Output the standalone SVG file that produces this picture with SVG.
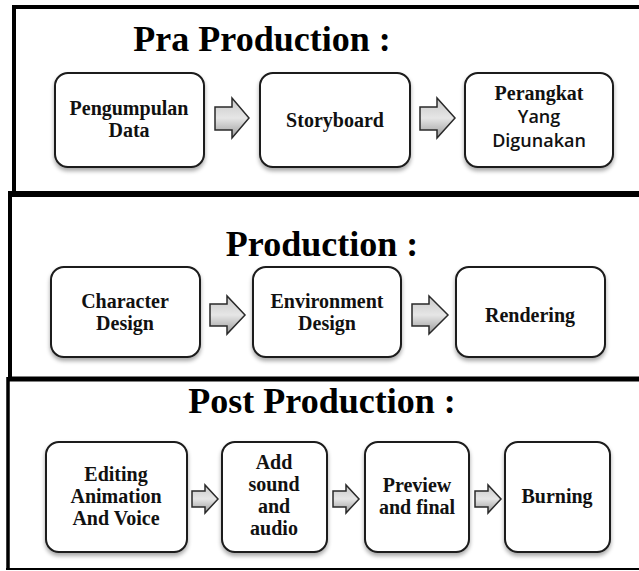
<svg xmlns="http://www.w3.org/2000/svg" width="639" height="571" viewBox="0 0 639 571">
<defs>
<linearGradient id="ag" x1="0" y1="0" x2="0" y2="1">
<stop offset="0" stop-color="#c8c8c8"/>
<stop offset="0.5" stop-color="#e6e6e6"/>
<stop offset="1" stop-color="#9a9a9a"/>
</linearGradient>
<filter id="sh" x="-10%" y="-10%" width="120%" height="130%">
<feGaussianBlur in="SourceAlpha" stdDeviation="2"/>
<feOffset dx="0" dy="3"/>
<feComponentTransfer><feFuncA type="linear" slope="0.35"/></feComponentTransfer>
<feMerge><feMergeNode/><feMergeNode in="SourceGraphic"/></feMerge>
</filter>
</defs>
<style>
.box{fill:#fff;stroke:#1a1a1a;stroke-width:2;filter:url(#sh)}
.t{font-family:"Liberation Serif",serif;font-weight:bold;font-size:20px;fill:#111;text-anchor:middle}
.s{font-family:"Open Sans","Liberation Sans",sans-serif;font-weight:600;font-size:18px;fill:#111;text-anchor:middle}
.h{font-family:"Liberation Serif",serif;font-weight:bold;font-size:36px;fill:#000;text-anchor:middle}
.fr{stroke:#000;fill:none}
.ar{fill:url(#ag);stroke:#2a2a2a;stroke-width:1.5;stroke-linejoin:miter}
</style>
<rect width="639" height="571" fill="#fff"/>
<g id="frames">
<line class="fr" x1="12" y1="7" x2="639" y2="7" stroke-width="4"/>
<line class="fr" x1="14" y1="5" x2="14" y2="194" stroke-width="4"/>
<line class="fr" x1="8" y1="194" x2="639" y2="194" stroke-width="6"/>
<line class="fr" x1="10" y1="192" x2="10" y2="380" stroke-width="4"/>
<line class="fr" x1="8" y1="379" x2="639" y2="379" stroke-width="5"/>
<line class="fr" x1="8" y1="377" x2="8" y2="570" stroke-width="3.5"/>
<line class="fr" x1="6" y1="569" x2="639" y2="569" stroke-width="2"/>
</g>
<g id="titles">
<text class="h" x="262" y="51">Pra Production :</text>
<text class="h" x="322" y="256">Production :</text>
<text class="h" x="322" y="413">Post Production :</text>
</g>
<g id="connectors">
<path class="ar" d="M215,107 H232 V98 L249,118 L232,138 V130 H215 Z"/>
<path class="ar" d="M420,107 H437 V98 L455,118 L437,138 V130 H420 Z"/>
<path class="ar" d="M210,304 H227 V296 L245,315 L227,334 V326 H210 Z"/>
<path class="ar" d="M412,304 H429 V296 L448,315 L429,334 V326 H412 Z"/>
<path class="ar" d="M192,491 H205 V485 L218,499 L205,513 V507 H192 Z"/>
<path class="ar" d="M333,491 H346 V485 L359,499 L346,513 V507 H333 Z"/>
<path class="ar" d="M475,491 H488 V485 L501,499 L488,513 V507 H475 Z"/>
</g>
<g id="n1"><rect class="box" x="55" y="73" width="149" height="94" rx="13"/><text class="t" x="129" y="115">Pengumpulan</text><text class="t" x="129" y="137">Data</text></g>
<g id="n2"><rect class="box" x="260" y="73" width="150" height="94" rx="13"/><text class="t" x="335" y="127">Storyboard</text></g>
<g id="n3"><rect class="box" x="465" y="73" width="148" height="94" rx="13"/><text class="t" x="539" y="100">Perangkat</text><text class="s" x="539" y="123">Yang</text><text class="s" x="539" y="147">Digunakan</text></g>
<g id="n4"><rect class="box" x="51" y="267" width="149" height="90" rx="13"/><text class="t" x="125" y="308">Character</text><text class="t" x="125" y="330">Design</text></g>
<g id="n5"><rect class="box" x="253" y="267" width="148" height="90" rx="13"/><text class="t" x="327" y="308">Environment</text><text class="t" x="327" y="330">Design</text></g>
<g id="n6"><rect class="box" x="456" y="267" width="149" height="90" rx="13"/><text class="t" x="530" y="322">Rendering</text></g>
<g id="n7"><rect class="box" x="46" y="442" width="141" height="110" rx="13"/><text class="t" x="116" y="481">Editing</text><text class="t" x="116" y="503">Animation</text><text class="t" x="116" y="525">And Voice</text></g>
<g id="n8"><rect class="box" x="222" y="442" width="105" height="110" rx="13"/><text class="t" x="274" y="469">Add</text><text class="t" x="274" y="491">sound</text><text class="t" x="274" y="513">and</text><text class="t" x="274" y="535">audio</text></g>
<g id="n9"><rect class="box" x="365" y="442" width="104" height="110" rx="13"/><text class="t" x="417" y="492">Preview</text><text class="t" x="417" y="514">and final</text></g>
<g id="n10"><rect class="box" x="505" y="442" width="105" height="110" rx="13"/><text class="t" x="557" y="503">Burning</text></g>
</svg>
